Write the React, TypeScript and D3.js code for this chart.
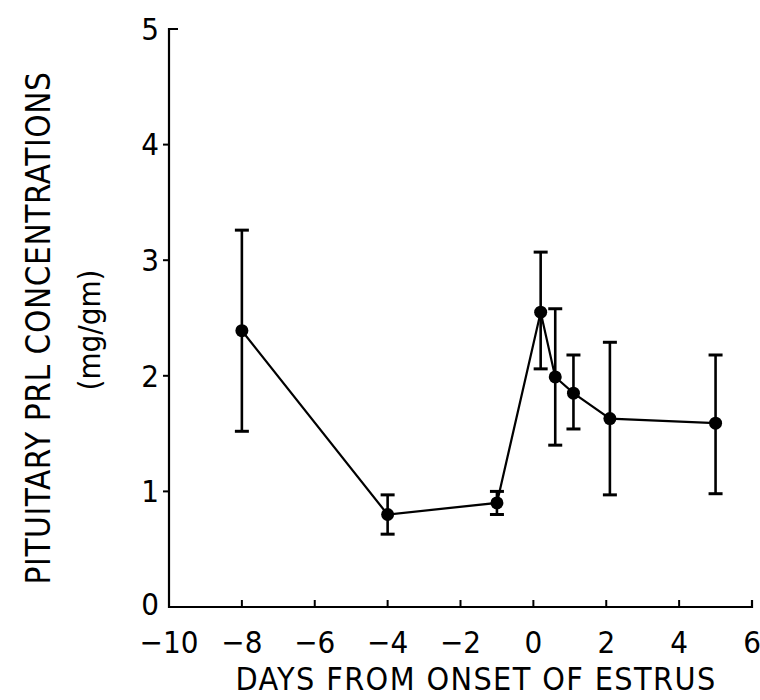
import React from "react";
import * as d3 from "d3";

// days relative to onset of estrus
const days = [-8, -4, -1, 0.2, 0.6, 1.1, 2.1, 5.0];
// mean pituitary PRL (mg/gm)
const means = [2.39, 0.8, 0.9, 2.55, 1.99, 1.85, 1.63, 1.59];
const upper = [3.26, 0.97, 1.0, 3.07, 2.58, 2.18, 2.29, 2.18];
const lower = [1.52, 0.63, 0.8, 2.06, 1.4, 1.54, 0.97, 0.98];

const xTicks = [-10, -8, -6, -4, -2, 0, 2, 4, 6];
const yTicks = [0, 1, 2, 3, 4, 5];

const xTitle = "DAYS FROM ONSET OF ESTRUS";
const yTitle = "PITUITARY PRL CONCENTRATIONS";
const yUnits = "(mg/gm)";

const W = 760;
const H = 700;
const font = "'Liberation Sans Narrow', 'DejaVu Sans Condensed', 'Roboto Condensed', sans-serif";

export default function App() {
  const x = d3.scaleLinear().domain([-10, 6]).range([169, 752]);
  const y = d3.scaleLinear().domain([0, 5]).range([607, 29]);

  const line = d3
    .line<number>()
    .x((d, i) => x(days[i]))
    .y((d) => y(d));

  const x0 = x.range()[0];
  const y0 = y.range()[0];

  return (
    <svg
      width={W}
      height={H}
      style={{ position: "absolute", left: 0, top: 0, background: "#fff" }}
      fontFamily={font}
    >
      {/* axes */}
      <path
        d={`M${x0 + 9},${y(5)} H${x0} V${y0} H${x(6)} V${y0 - 7}`}
        fill="none"
        stroke="#000"
        strokeWidth={2.2}
      />
      {yTicks.slice(1, -1).map((t) => (
        <line key={"yt" + t} x1={x0 - 6} x2={x0} y1={y(t)} y2={y(t)} stroke="#000" strokeWidth={2} />
      ))}
      {xTicks.slice(1, -1).map((t) => (
        <line key={"xt" + t} x1={x(t)} x2={x(t)} y1={y0} y2={y0 - 7} stroke="#000" strokeWidth={2} />
      ))}

      {/* tick labels */}
      {yTicks.map((t) => (
        <text key={"yl" + t} x={x0 - 10} y={y(t) - (t === 0 ? 3 : 0)} dy="0.35em" textAnchor="end" fontSize={31}>
          {t}
        </text>
      ))}
      {xTicks.map((t) => (
        <text key={"xl" + t} x={x(t)} y={y0 + 46} textAnchor="middle" fontSize={31}>
          {t < 0 ? "\u2212" + Math.abs(t) : t}
        </text>
      ))}

      {/* titles */}
      <text x={476} y={690} textAnchor="middle" fontSize={32} letterSpacing={1.4}>
        {xTitle}
      </text>
      <text
        transform={`translate(50,${328}) rotate(-90)`}
        textAnchor="middle"
        fontSize={33}
        letterSpacing={0.6}
      >
        {yTitle}
      </text>
      <text
        transform={`translate(100,${330}) rotate(-90)`}
        textAnchor="middle"
        fontSize={31}
      >
        {yUnits}
      </text>

      {/* error bars */}
      {days.map((d, i) => (
        <g key={"e" + i} stroke="#000" strokeWidth={2.6}>
          <line x1={x(d)} x2={x(d)} y1={y(upper[i])} y2={y(lower[i])} />
          <line x1={x(d) - 7} x2={x(d) + 7} y1={y(upper[i])} y2={y(upper[i])} strokeWidth={3} />
          <line x1={x(d) - 7} x2={x(d) + 7} y1={y(lower[i])} y2={y(lower[i])} strokeWidth={3} />
        </g>
      ))}

      {/* mean line and points */}
      <path d={line(means) || ""} fill="none" stroke="#000" strokeWidth={2.2} />
      {days.map((d, i) => (
        <circle key={"p" + i} cx={x(d)} cy={y(means[i])} r={6.5} fill="#000" />
      ))}
    </svg>
  );
}
